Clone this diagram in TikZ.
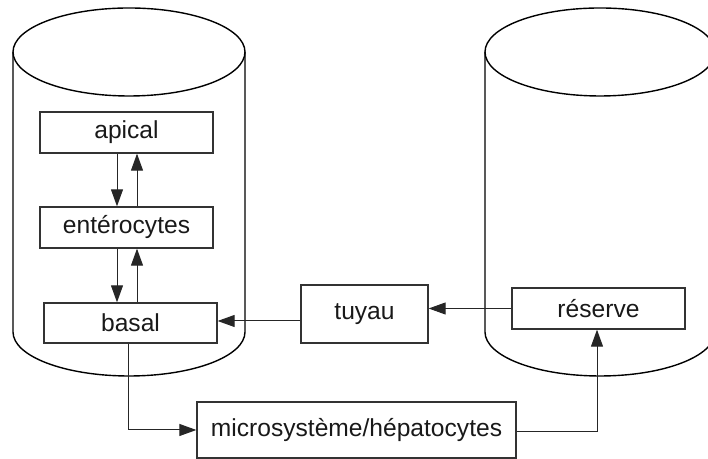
\documentclass[tikz,border=0pt]{standalone}
\usepackage{fontspec}
\setmainfont{Liberation Sans}
\usetikzlibrary{arrows.meta,calc}
\begin{document}
\begin{tikzpicture}[x=0.5pt,y=0.5pt,
  box/.style={draw=black!80,line width=0.65pt,inner sep=0pt,
    font=\fontsize{12.3}{14}\selectfont,text=black!90},
  conn/.style={draw=black!85,line width=0.5pt,-{Triangle[length=8.5pt,width=6pt]}},
  cyl/.style={draw=black,line width=0.7pt}]
\useasboundingbox (0,0) rectangle (708,459);
\clip (0,0) rectangle (708,459);
% cylinders
\draw[cyl] (129,407) ellipse [x radius=58pt, y radius=22pt];
\draw[cyl] (13,407) -- (13,127) arc[start angle=180,end angle=360,x radius=58pt,y radius=22pt] -- (245,407);
\draw[cyl] (600,407) ellipse [x radius=57.5pt, y radius=22pt];
\draw[cyl] (485,407) -- (485,127) arc[start angle=180,end angle=360,x radius=57.5pt,y radius=22pt] -- (715,407);
% nodes
\node[box,minimum width=86.5pt,minimum height=20.5pt] (apical) at (126.5,326.5) {apical};
\node[box,minimum width=86.5pt,minimum height=20.5pt] (ent) at (126.5,231.5) {entérocytes};
\node[box,minimum width=86.5pt,minimum height=20pt] (basal) at (130.5,136) {basal};
\node[box,minimum width=63.5pt,minimum height=29pt] (tuyau) at (364.5,145) {tuyau};
\node[box,minimum width=86.5pt,minimum height=20.5pt] (reserve) at (598.5,150.5) {réserve};
\node[box,minimum width=159.5pt,minimum height=28pt] (micro) at (356.5,29) {microsystème/hépatocytes};
% connectors
\draw[conn] ([xshift=-4.75pt]apical.south) -- ([xshift=-4.75pt]apical.south |- ent.north);
\draw[conn] ([xshift=5.25pt]ent.north) -- ([xshift=5.25pt]ent.north |- apical.south);
\draw[conn] ([xshift=-4.75pt]ent.south) -- ([xshift=-4.75pt]ent.south |- basal.north);
\draw[conn] ([xshift=5.25pt]ent.south |- basal.north) -- ([xshift=5.25pt]ent.south);
\draw[conn] (reserve.west) -- (reserve.west -| tuyau.east);
\draw[conn] ([yshift=1pt]tuyau.west |- basal.east) -- ([yshift=1pt]basal.east);
\draw[conn] ([xshift=-1.25pt]basal.south) |- (micro.west);
\draw[conn] ([yshift=-1pt]micro.east) -| ([xshift=-0.75pt]reserve.south);
\end{tikzpicture}
\end{document}
